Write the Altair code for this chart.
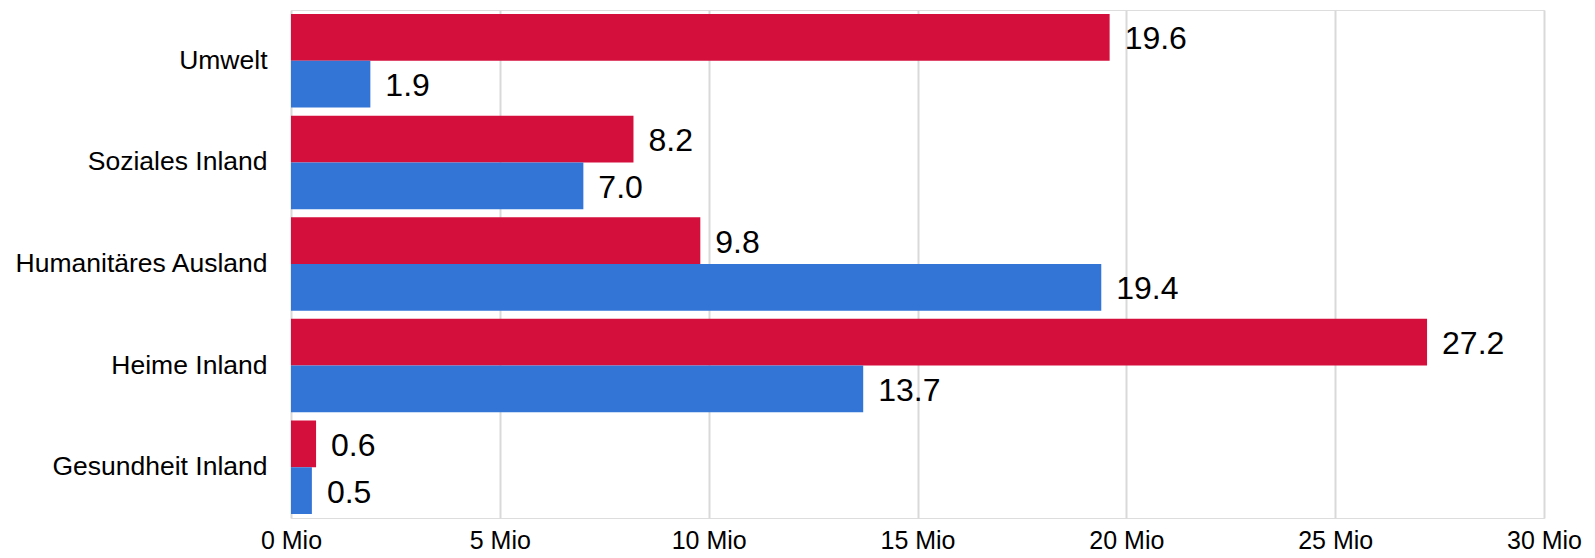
import altair as alt
import pandas as pd

categories = ["Umwelt", "Soziales Inland", "Humanitäres Ausland", "Heime Inland", "Gesundheit Inland"]
series_names = ["Reihe 1", "Reihe 2"]
values_red = [19.6, 8.2, 9.8, 27.2, 0.6]
values_blue = [1.9, 7.0, 19.4, 13.7, 0.5]
x_ticks = [0, 5, 10, 15, 20, 25, 30]
colors = ["#D50F3C", "#3375D6"]

rows = []
for c, r, b in zip(categories, values_red, values_blue):
    rows.append({"Kategorie": c, "Reihe": series_names[0], "Wert": r})
    rows.append({"Kategorie": c, "Reihe": series_names[1], "Wert": b})
df = pd.DataFrame(rows)

FONT = "Liberation Sans"

y_enc = alt.Y(
    "Kategorie:N",
    sort=categories,
    scale=alt.Scale(paddingInner=0.08, paddingOuter=0.04),
    axis=alt.Axis(
        title=None, domain=False, ticks=False, grid=False,
        labelFontSize=26.5, labelFont=FONT, labelColor="#000000",
        labelPadding=24, labelLimit=400,
    ),
)
yoff_enc = alt.YOffset("Reihe:N", sort=series_names,
                       scale=alt.Scale(paddingInner=0, paddingOuter=0))
x_enc = alt.X(
    "Wert:Q",
    scale=alt.Scale(domain=[0, 30], nice=False),
    axis=alt.Axis(
        title=None, values=x_ticks, domain=False, ticks=False,
        grid=True, gridColor="#d9d9d9", gridWidth=2,
        labelFontSize=25, labelFont=FONT, labelColor="#000000",
        labelPadding=10, labelFlush=False, labelExpr="datum.value + ' Mio'",
    ),
)

bars = alt.Chart(df).mark_bar().encode(
    x=x_enc,
    y=y_enc,
    yOffset=yoff_enc,
    color=alt.Color("Reihe:N", sort=series_names,
                    scale=alt.Scale(domain=series_names, range=colors), legend=None),
)

labels = alt.Chart(df).mark_text(
    align="left", baseline="middle", dx=15, dy=2, fontSize=32, font=FONT, color="#000000"
).encode(
    x=alt.X("Wert:Q"),
    y=alt.Y("Kategorie:N", sort=categories),
    yOffset=yoff_enc,
    text=alt.Text("Wert:Q", format=".1f"),
)

chart = alt.layer(bars, labels).properties(
    width=1253,
    height=508,
    autosize=alt.AutoSizeParams(type="none"),
    padding={"left": 283, "top": 2, "right": 40, "bottom": 40},
).configure_view(stroke=None).configure(background="white")

chart.save("out.html", embed_options={"renderer": "svg", "actions": False})
